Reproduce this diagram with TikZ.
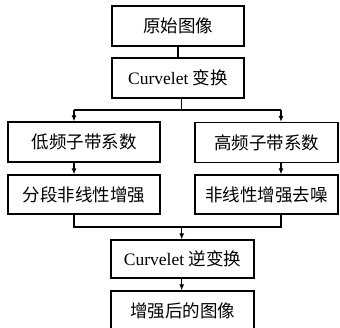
\documentclass[tikz,border=0pt]{standalone}
\usepackage{fontspec}
\setmainfont{Liberation Serif}
\newfontfamily\cjk{Noto Sans CJK SC}
\usetikzlibrary{arrows.meta, positioning, calc}

\begin{document}
\begin{tikzpicture}[
    x=1pt, y=-1pt,
    box/.style={draw, line width=1.2pt, minimum height=40pt, inner sep=0pt,
        font=\fontsize{17.5}{20}\selectfont},
    arr/.style={line width=1.2pt, -{Latex[length=6pt,width=5pt]}},
    link/.style={line width=1.2pt}
]
\useasboundingbox (0,0) rectangle (340,328);
\node[box, minimum width=132pt] (src) at (178,26) {\cjk 原始图像};
\node[box, minimum width=132pt] (fwd) at (178,78) {Curvelet \cjk 变换};
\node[box, minimum width=152pt] (low) at (84,142) {\cjk 低频子带系数};
\node[box, minimum width=143pt] (high) at (266.5,142.5) {\cjk 高频子带系数};
\node[box, minimum width=152pt, minimum height=39pt] (lowenh) at (84,194.5) {\cjk 分段非线性增强};
\node[box, minimum width=143pt, minimum height=39pt] (highenh) at (266.5,194.5) {\cjk 非线性增强去噪};
\node[box, minimum width=143pt, minimum height=38pt] (inv) at (182.5,259) {Curvelet \cjk 逆变换};
\node[box, minimum width=143pt] (result) at (182.5,311) {\cjk 增强后的图像};

% split after the transform
\coordinate (split) at (181.7,110);
\coordinate (lsplit) at (74,110);
\coordinate (rsplit) at (281,110);
% merge before the inverse
\coordinate (merge) at (181.7,227);
\coordinate (lmerge) at (74,227);
\coordinate (rmerge) at (281,227);

\draw[link] (src) -- (fwd);
\draw[link] (fwd.south -| split) -- (split);
\draw[link] (lsplit) -- (rsplit);
\draw[arr] (lsplit) -- (lsplit |- low.north);
\draw[arr] (rsplit) -- (rsplit |- high.north);
\draw[arr] (low.south -| lsplit) -- (lsplit |- lowenh.north);
\draw[arr] (high.south -| rsplit) -- (rsplit |- highenh.north);
\draw[link] (lowenh.south -| lmerge) -- (lmerge) -- (rmerge) -- (highenh.south -| rmerge);
\draw[arr] (merge) -- (merge |- inv.north);
\draw[arr] (inv.south -| merge) -- (merge |- result.north);
\end{tikzpicture}
\end{document}
